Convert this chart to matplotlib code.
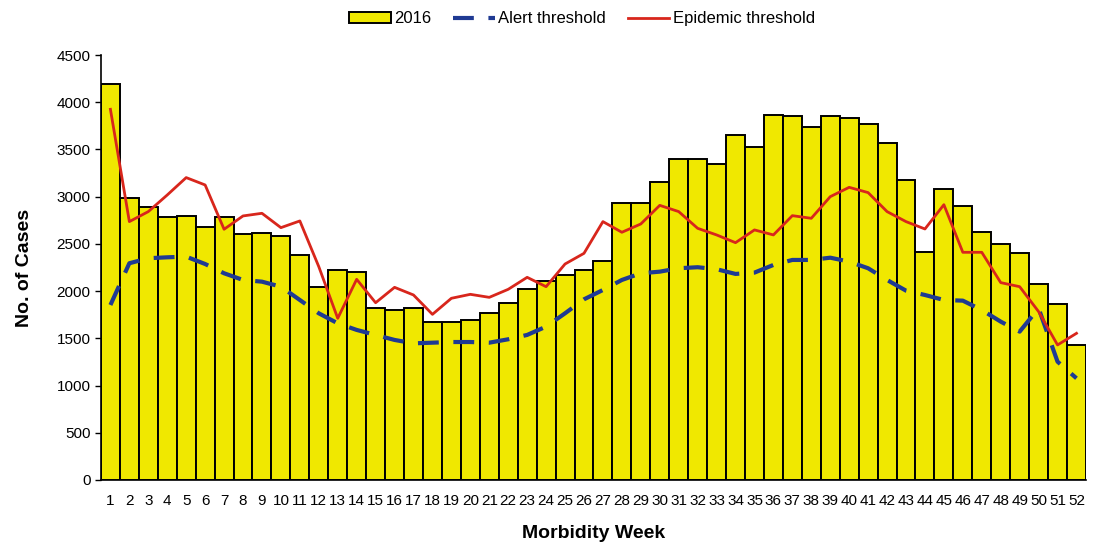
import matplotlib
matplotlib.use('Agg')
import matplotlib.pyplot as plt
import numpy as np

plt.rcParams['font.family'] = ['Liberation Sans', 'DejaVu Sans']

# weekly counts, 2016
weeks = list(range(1, 53))
cases_2016 = [4190, 2985, 2890, 2785, 2800, 2680, 2785, 2600, 2615, 2585,
              2383, 2044, 2224, 2203, 1820, 1795, 1818, 1678, 1668, 1694,
              1772, 1876, 2025, 2102, 2171, 2224, 2321, 2935, 2935, 3156,
              3394, 3394, 3346, 3652, 3525, 3870, 3855, 3735, 3855, 3836,
              3768, 3571, 3180, 2413, 3076, 2898, 2625, 2495, 2402, 2072,
              1868, 1430]
alert = [1853, 2295, 2348, 2358, 2365, 2287, 2189, 2118, 2100, 2047,
         1906, 1765, 1659, 1589, 1536, 1483, 1447, 1454, 1461, 1461,
         1454, 1490, 1536, 1624, 1765, 1913, 2012, 2118, 2189, 2206,
         2242, 2253, 2232, 2182, 2196, 2277, 2330, 2330, 2354, 2312,
         2242, 2118, 2005, 1959, 1906, 1899, 1800, 1677, 1571, 1818,
         1253, 1077]
epidemic = [3925, 2736, 2842, 3018, 3202, 3124, 2655, 2796, 2824, 2672,
            2743, 2259, 1712, 2125, 1877, 2040, 1959, 1754, 1924, 1966,
            1934, 2019, 2146, 2047, 2287, 2400, 2736, 2623, 2711, 2908,
            2842, 2665, 2595, 2513, 2648, 2595, 2799, 2771, 3000, 3099,
            3043, 2842, 2736, 2658, 2915, 2411, 2411, 2090, 2047, 1783,
            1430, 1553]
y_ticks = list(range(0, 5000, 500))

fig = plt.figure(figsize=(11.13, 5.42), dpi=100)
ax = fig.add_axes([0.0907, 0.1144, 0.885, 0.7841])

bars = ax.bar(weeks, cases_2016, width=1.0, color='#f0e800', edgecolor='black',
              linewidth=1.4, label='2016', zorder=2)
alert_line, = ax.plot(weeks, alert, color='#1f3a93', linewidth=3, dashes=(5, 3.5),
                      label='Alert threshold', zorder=3)
epi_line, = ax.plot(weeks, epidemic, color='#d8261c', linewidth=2,
                    label='Epidemic threshold', zorder=4)

ax.set_xlim(0.5, 52.5)
ax.set_ylim(0, 4500)
ax.set_yticks(y_ticks)
ax.set_xticks(weeks)
ax.set_xticklabels([str(w) for w in weeks], fontsize=11)
ax.tick_params(axis='x', length=0, pad=10)
ax.tick_params(axis='y', labelsize=11, length=4, width=1, direction='out')
for s in ['top', 'right']:
    ax.spines[s].set_visible(False)
ax.spines['left'].set_linewidth(1.2)
ax.spines['bottom'].set_linewidth(1.2)

ax.set_ylabel('No. of Cases', fontsize=14, fontweight='bold', labelpad=17)
ax.set_xlabel('Morbidity Week', fontsize=14, fontweight='bold', labelpad=12)

fig.legend([bars, alert_line, epi_line], ['2016', 'Alert threshold', 'Epidemic threshold'],
           loc='center', bbox_to_anchor=(0.523, 0.965),
           ncol=3, frameon=False, fontsize=12, handlelength=2.5,
           columnspacing=1.3, handletextpad=0.2)

fig.savefig('out.png', dpi=100)
